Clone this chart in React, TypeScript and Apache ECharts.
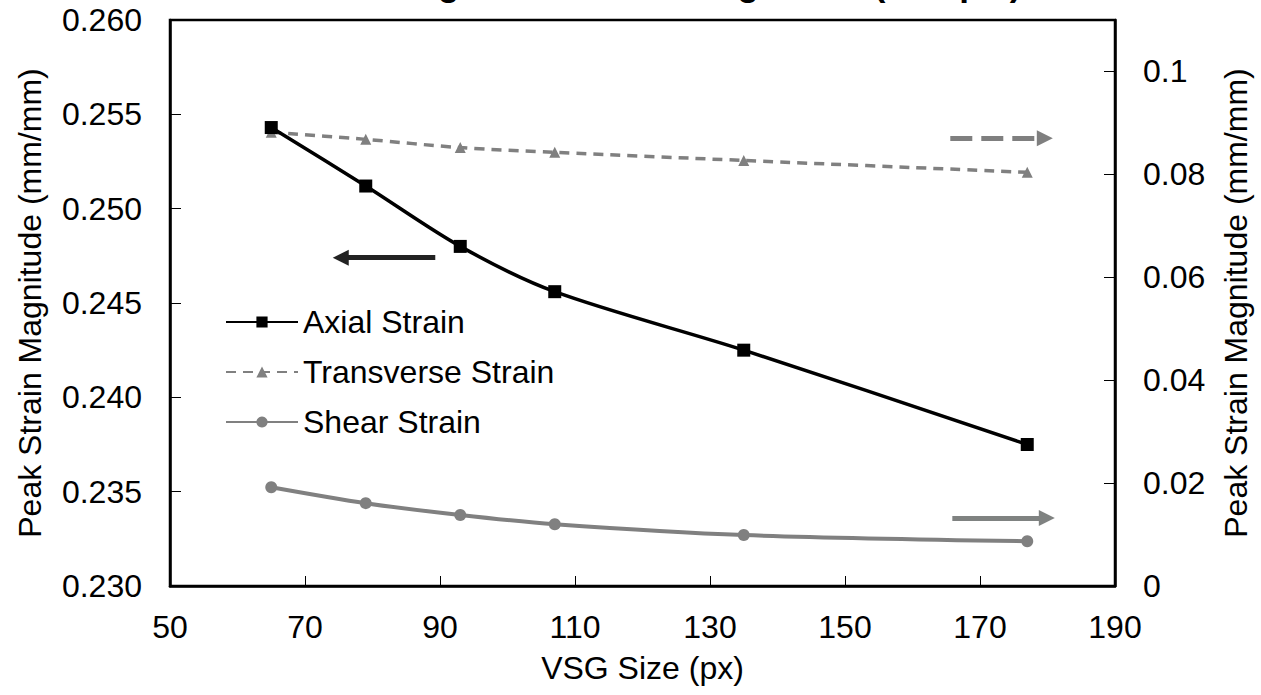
import React, { useEffect, useRef } from "react";
import * as echarts from "echarts";

const titleText = "Average Peak Strain Magnitude (Sample)";
const xName = "VSG Size (px)";
const yName = "Peak Strain Magnitude (mm/mm)";

const vsgSizes = [65, 79, 93, 107, 135, 177];
const axialStrain = [0.2543, 0.2512, 0.248, 0.2456, 0.2425, 0.2375];
const transverseStrain = [0.0882, 0.0868, 0.0852, 0.0843, 0.0827, 0.0804];
const shearStrain = [0.0192, 0.0161, 0.0138, 0.012, 0.0099, 0.0087];

const xAxisRange = [50, 190, 20];
const leftAxisRange = [0.23, 0.26, 0.005];
const rightAxisRange = [0, 0.11, 0.02];

const axialArrow = [[89.3, 0.2474], [75.3, 0.2474]];
const transverseArrow = [[165.6, 0.087], [179.6, 0.087]];
const shearArrow = [[165.9, 0.0132], [179.9, 0.0132]];

const FONT = "'Liberation Sans', Arial, sans-serif";

const pair = (xs: number[], ys: number[]) => xs.map((x, i) => [x, ys[i]]);

const arrow = (pts: number[][], color: string, type: any) => ({
  silent: true,
  animation: false,
  symbol: ["none", "triangle"],
  symbolSize: [16, 16],
  label: { show: false },
  emphasis: { disabled: true },
  lineStyle: { color, width: 5, type },
  data: [[{ coord: pts[0] }, { coord: pts[1] }]],
});

export default function App() {
  const ref = useRef<HTMLDivElement>(null);
  useEffect(() => {
    if (!ref.current) return;
    const chart = echarts.init(ref.current, undefined, { renderer: "svg" });
    const axisCommon = {
      axisLine: { show: true, lineStyle: { color: "#000", width: 2.5 } },
      axisTick: { show: true, inside: true, length: 11, lineStyle: { color: "#000", width: 1 } },
      splitLine: { show: false },
      nameTextStyle: { fontFamily: FONT, fontSize: 32, color: "#000" },
    };
    chart.setOption({
      animation: false,
      backgroundColor: "#fff",
      title: {
        text: titleText,
        left: 342,
        top: -34,
        padding: 0,
        textStyle: { fontFamily: FONT, fontSize: 35, fontWeight: "bold", color: "#000" },
      },
      grid: {
        left: 170,
        right: 146,
        top: 20,
        bottom: 109,
        show: true,
        borderColor: "#000",
        borderWidth: 2.5,
        backgroundColor: "transparent",
        outerBoundsMode: "none",
      },
      legend: {
        orient: "vertical",
        left: 225,
        top: 306,
        padding: 0,
        itemWidth: 72,
        itemHeight: 14,
        itemGap: 18,
        textStyle: { fontFamily: FONT, fontSize: 32, color: "#000" },
        data: ["Axial Strain", "Transverse Strain", "Shear Strain"],
      },
      xAxis: {
        type: "value",
        min: xAxisRange[0],
        max: xAxisRange[1],
        interval: xAxisRange[2],
        name: xName,
        nameLocation: "middle",
        nameGap: 66,
        ...axisCommon,
        axisTick: { ...axisCommon.axisTick, length: 10 },
        axisLabel: { fontFamily: FONT, fontSize: 32, color: "#000", margin: 25 },
      },
      yAxis: [
        {
          type: "value",
          position: "left",
          min: leftAxisRange[0],
          max: leftAxisRange[1],
          interval: leftAxisRange[2],
          name: yName,
          nameLocation: "middle",
          nameGap: 124,
          ...axisCommon,
          axisLabel: {
            fontFamily: FONT,
            fontSize: 32,
            color: "#000",
            margin: 28,
            formatter: (v: number) => v.toFixed(3),
          },
        },
        {
          type: "value",
          position: "right",
          min: rightAxisRange[0],
          max: rightAxisRange[1],
          interval: rightAxisRange[2],
          alignTicks: false,
          name: yName,
          nameLocation: "middle",
          nameGap: 105,
          ...axisCommon,
          axisLabel: {
            fontFamily: FONT,
            fontSize: 32,
            color: "#000",
            margin: 28,
            showMaxLabel: false,
            formatter: (v: number) => (v === 0 ? "0" : String(parseFloat(v.toFixed(2)))),
          },
        },
      ],
      series: [
        {
          name: "Axial Strain",
          type: "line",
          yAxisIndex: 0,
          data: pair(vsgSizes, axialStrain),
          smooth: 0.3,
          symbol: "rect",
          symbolSize: 13,
          itemStyle: { color: "#000" },
          lineStyle: { color: "#000", width: 3.5 },
          z: 3,
          markLine: arrow(axialArrow, "#222", "solid"),
        },
        {
          name: "Transverse Strain",
          type: "line",
          yAxisIndex: 1,
          data: pair(vsgSizes, transverseStrain),
          smooth: 0.3,
          symbol: "triangle",
          symbolSize: 11,
          itemStyle: { color: "#808080" },
          lineStyle: { color: "#808080", width: 3.5, type: [10, 7] },
          z: 2,
          markLine: arrow(transverseArrow, "#7f7f7f", [22, 9]),
        },
        {
          name: "Shear Strain",
          type: "line",
          yAxisIndex: 1,
          data: pair(vsgSizes, shearStrain),
          smooth: 0.3,
          symbol: "circle",
          symbolSize: 12,
          itemStyle: { color: "#808080" },
          lineStyle: { color: "#808080", width: 4 },
          z: 2,
          markLine: arrow(shearArrow, "#7f8281", "solid"),
        },
      ],
    });
    return () => chart.dispose();
  }, []);
  return (
    <div
      ref={ref}
      style={{ position: "absolute", left: 0, top: 0, width: 1261, height: 695, background: "#fff" }}
    />
  );
}
